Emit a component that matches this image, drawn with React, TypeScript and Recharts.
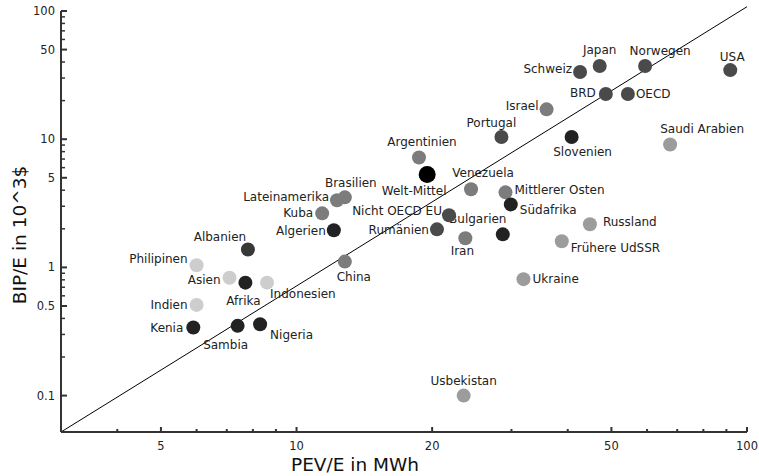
import { ScatterChart, Scatter, XAxis, YAxis, ReferenceLine } from 'recharts'

// PEV/E (MWh per person) vs BIP/E (10^3 $ per person), log-log
const countries = [
  'Kenia', 'Sambia', 'Nigeria', 'Indien', 'Afrika', 'Asien', 'Indonesien', 'Philipinen',
  'Albanien', 'China', 'Algerien', 'Kuba', 'Lateinamerika', 'Brasilien', 'Argentinien',
  'Welt-Mittel', 'Venezuela', 'Mittlerer Osten', 'Südafrika', 'Bulgarien', 'Nicht OECD EU',
  'Rumänien', 'Iran', 'Portugal', 'Slovenien', 'Israel', 'Schweiz', 'Japan', 'Norwegen',
  'BRD', 'OECD', 'USA', 'Saudi Arabien', 'Russland', 'Frühere UdSSR', 'Ukraine', 'Usbekistan',
]
const pev = [
  5.9, 7.4, 8.3, 6.0, 7.7, 7.1, 8.6, 6.0,
  7.8, 12.8, 12.1, 11.4, 12.3, 12.8, 18.7,
  19.5, 24.4, 29.1, 29.9, 28.7, 21.8,
  20.5, 23.7, 28.5, 40.8, 35.9, 42.6, 47.1, 59.4,
  48.6, 54.4, 91.8, 67.5, 44.8, 38.8, 31.9, 23.5,
]
const bip = [
  0.34, 0.35, 0.36, 0.51, 0.76, 0.83, 0.76, 1.04,
  1.38, 1.11, 1.95, 2.64, 3.34, 3.52, 7.2,
  5.3, 4.07, 3.85, 3.1, 1.81, 2.55,
  1.98, 1.69, 10.4, 10.4, 17.1, 33.4, 37.2, 37.2,
  22.5, 22.5, 34.6, 9.1, 2.17, 1.6, 0.81, 0.1,
]
const groups = [
  'africa', 'africa', 'africa', 'asia', 'africa', 'asia', 'asia', 'asia',
  'europeEast', 'latin', 'africa', 'latin', 'latin', 'latin', 'latin',
  'world', 'latin', 'latin', 'africa', 'africa', 'europe',
  'europe', 'latin', 'europe', 'africa', 'latin', 'europe', 'europe', 'europe',
  'europe', 'europe', 'europe', 'ussr', 'ussr', 'ussr', 'ussr', 'ussr',
]

const xTicks = [4, 5, 6, 7, 8, 9, 10, 20, 30, 40, 50, 60, 70, 80, 90, 100]
const xLabels = [5, 10, 20, 50, 100]
const yTicks = [
  0.1, 0.2, 0.3, 0.4, 0.5, 0.6, 0.7, 0.8, 0.9,
  1, 2, 3, 4, 5, 6, 7, 8, 9,
  10, 20, 30, 40, 50, 60, 70, 80, 90, 100,
]
const yLabels = [0.1, 0.5, 1, 5, 10, 50, 100]

const data = countries.map((name, i) => ({ name, x: pev[i], y: bip[i], group: groups[i] }))

const groupColor: Record<string, string> = {
  africa: '#222222',
  world: '#000000',
  europeEast: '#383838',
  europe: '#4a4a4a',
  latin: '#7c7c7c',
  ussr: '#9c9c9c',
  asia: '#cdcdcd',
}

// label placement relative to the dot: anchor, dx, dy
const labelPlacement: Record<string, [string, number, number]> = {
  'Kenia': ['end', -10, 1],
  'Sambia': ['middle', -12, 19],
  'Nigeria': ['start', 10, 11],
  'Indien': ['end', -9, 0],
  'Afrika': ['middle', -2, 18],
  'Asien': ['end', -9, 2],
  'Indonesien': ['start', 3, 11],
  'Philipinen': ['end', -9, -6],
  'Albanien': ['middle', -28, -12],
  'China': ['middle', 9, 15],
  'Algerien': ['end', -8, 1],
  'Kuba': ['end', -9, 0],
  'Lateinamerika': ['end', -8, -3],
  'Brasilien': ['middle', 6, -14],
  'Argentinien': ['middle', 3, -15],
  'Welt-Mittel': ['middle', -13, 16],
  'Venezuela': ['middle', 12, -16],
  'Mittlerer Osten': ['start', 9, -2],
  'Südafrika': ['start', 9, 6],
  'Bulgarien': ['middle', -25, -15],
  'Nicht OECD EU': ['end', -7, -4],
  'Rumänien': ['end', -8, 1],
  'Iran': ['middle', -3, 13],
  'Portugal': ['middle', -10, -14],
  'Slovenien': ['middle', 11, 15],
  'Israel': ['end', -8, -3],
  'Schweiz': ['end', -8, -3],
  'Japan': ['middle', 0, -16],
  'Norwegen': ['middle', 15, -15],
  'BRD': ['end', -10, -1],
  'OECD': ['start', 8, 0],
  'USA': ['middle', 2, -13],
  'Saudi Arabien': ['middle', 32, -15],
  'Russland': ['start', 13, -2],
  'Frühere UdSSR': ['start', 9, 7],
  'Ukraine': ['start', 9, 0],
  'Usbekistan': ['middle', 0, -15],
}

const FONT = '"DejaVu Sans", sans-serif'
const AXIS = '#333'

function CountryDot(props: any) {
  const { cx, cy, payload } = props
  const [anchor, dx, dy] = labelPlacement[payload.name] ?? ['start', 9, 0]
  return (
    <g>
      <circle cx={cx} cy={cy} r={payload.group === 'world' ? 8.5 : 7} fill={groupColor[payload.group]} />
      <text
        x={cx + dx}
        y={cy + dy}
        textAnchor={anchor as any}
        dominantBaseline="central"
        fontSize={12}
        fontFamily={FONT}
        fill="#222"
      >
        {payload.name}
      </text>
    </g>
  )
}

// ticks drawn inside the plot, with labels only on the major ones
function XTick(props: any) {
  const { x, y, payload } = props
  const axisY = y - 10
  const major = xLabels.includes(payload.value)
  return (
    <g>
      <line x1={x} x2={x} y1={axisY} y2={axisY - (major ? 5 : 3)} stroke={AXIS} strokeWidth={2} />
      {major && (
        <text x={x} y={y} dy="0.71em" textAnchor="middle" fontSize={11.5} fontFamily={FONT} fill="#222">
          {payload.value}
        </text>
      )}
    </g>
  )
}

function YTick(props: any) {
  const { x, y, payload } = props
  const axisX = x + 6
  const major = yLabels.includes(payload.value)
  return (
    <g>
      <line x1={axisX} x2={axisX + (major ? 6 : 4)} y1={y} y2={y} stroke={AXIS} strokeWidth={major ? 2 : 1.5} />
      {major && (
        <text x={x} y={y} textAnchor="end" dominantBaseline="central" fontSize={11.5} fontFamily={FONT} fill="#222">
          {payload.value}
        </text>
      )}
    </g>
  )
}

export default function App() {
  return (
    <div style={{ position: 'absolute', left: 0, top: 0, width: 759, height: 476, background: '#fff' }}>
      <ScatterChart width={759} height={476} margin={{ top: 11, right: 12, bottom: 0, left: 0 }}>
        <XAxis
          type="number"
          dataKey="x"
          scale="log"
          domain={[3, 100]}
          ticks={xTicks}
          interval={0}
          height={44}
          tickSize={0}
          tickMargin={10}
          tickLine={false}
          tick={XTick}
          axisLine={{ stroke: AXIS, strokeWidth: 2 }}
          allowDataOverflow
        />
        <YAxis
          type="number"
          dataKey="y"
          scale="log"
          domain={[0.052, 100]}
          ticks={yTicks}
          interval={0}
          width={61}
          tickSize={0}
          tickMargin={6}
          tickLine={false}
          tick={YTick}
          axisLine={{ stroke: AXIS, strokeWidth: 2 }}
          allowDataOverflow
        />
        <Scatter data={data} shape={CountryDot} isAnimationActive={false} />
        <ReferenceLine
          segment={[{ x: 3, y: 0.052 }, { x: 100, y: 108 }]}
          stroke="#000"
          strokeWidth={1}
          ifOverflow="visible"
        />
      </ScatterChart>
      <svg width={759} height={476} style={{ position: 'absolute', left: 0, top: 0, pointerEvents: 'none' }}>
        <text x={355} y={471} textAnchor="middle" fontSize={18.5} fontFamily={FONT} fill="#111">
          PEV/E in MWh
        </text>
        <text
          transform="translate(26, 235) rotate(-90)"
          textAnchor="middle"
          fontSize={18.5}
          fontFamily={FONT}
          fill="#111"
        >
          BIP/E in 10^3$
        </text>
      </svg>
    </div>
  )
}
